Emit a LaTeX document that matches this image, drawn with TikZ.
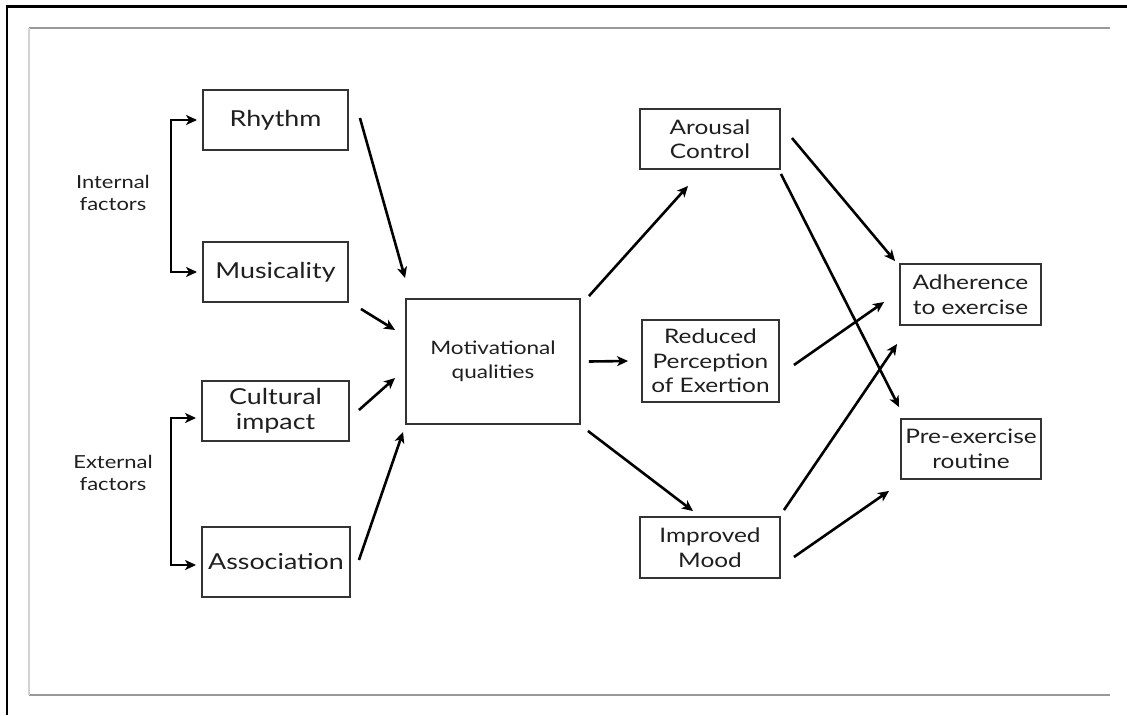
\documentclass[tikz,border=0pt]{standalone}
\usepackage{fontspec}
\setmainfont{Lato}[FakeStretch=1.22]
\usetikzlibrary{calc,arrows.meta}
\tikzset{
  box/.style={draw=black!80, line width=1.9pt, text=black!88, align=center, inner sep=0pt},
  bigtxt/.style={font=\fontsize{22}{25}\selectfont},
  midtxt/.style={font=\fontsize{18.5}{24.5}\selectfont},
  rtxt/.style={font=\fontsize{20}{24.5}\selectfont},
  lbl/.style={text=black!88, align=center, font=\fontsize{18}{21.5}\selectfont},
  arr/.style={-{Stealth[length=11pt,width=10pt,inset=3pt]}, line width=2.6pt, black},
  brk/.style={{Stealth[length=11pt,width=10pt,inset=3pt]}-{Stealth[length=11pt,width=10pt,inset=3pt]}, line width=2.6pt, black}
}
\begin{document}
\begin{tikzpicture}[x=1pt,y=-1pt]
\useasboundingbox (0,0) rectangle (1127,715);
% frame
\draw[line width=2.6pt, black] (7,715) -- (7,6.5) -- (1127,6.5);
\draw[line width=1.3pt, black!40] (29,28) -- (1110,28);
\draw[line width=1.3pt, black!40] (29,695) -- (1110,695);
\draw[line width=1.3pt, black!18] (29,28) -- (29,695);
% nodes
\node[box,bigtxt,minimum width=145pt,minimum height=60pt] (rhythm) at (275.5,120) {Rhythm};
\node[box,bigtxt,minimum width=145pt,minimum height=60pt] (music) at (275.5,272) {Musicality};
\node[box,bigtxt,minimum width=147pt,minimum height=60pt] (cult) at (275.5,411) {Cultural\\impact};
\node[box,bigtxt,minimum width=148pt,minimum height=70pt] (assoc) at (276,562) {Association};
\node[box,midtxt,minimum width=174pt,minimum height=125pt] (motiv) at (493,361.5) {Motivational\\qualities};
\node[box,rtxt,minimum width=140pt,minimum height=60pt] (arousal) at (710,139) {Arousal\\Control};
\node[box,rtxt,minimum width=137pt,minimum height=82pt] (reduced) at (710.5,361) {Reduced\\Perception\\of Exertion};
\node[box,rtxt,minimum width=140pt,minimum height=61pt] (mood) at (710,547.5) {Improved\\Mood};
\node[box,rtxt,minimum width=141pt,minimum height=61pt] (adher) at (970.5,294.5) {Adherence\\to exercise};
\node[box,rtxt,minimum width=140pt,minimum height=60pt] (pre) at (971,449) {Pre-exercise\\routine};
\node[lbl] (internal) at (113,193) {Internal\\factors};
\node[lbl] (external) at (113,473) {External\\factors};
% brackets
\draw[brk] ($(rhythm.west)+(-5,0)$) -- ++(-26,0) |- ($(music.west)+(-5,0)$);
\draw[brk] ($(cult.west)+(-5,7)$) -- ++(-25,0) |- ($(assoc.west)+(-5,3)$);
% arrows
\draw[arr] ($(rhythm.east)+(11,-2)$) -- ($(motiv.north west)+(0,-20)$);
\draw[arr] ($(music.south east)+(12,6)$) -- ($(motiv.west)+(-10,-31.5)$);
\draw[arr] ($(cult.east)+(9,-1)$) -- ($(motiv.west)+(-10,16.5)$);
\draw[arr] ($(assoc.east)+(8,-2)$) -- ($(motiv.south west)+(-2,7)$);
\draw[arr] ($(motiv.north east)+(8,-2)$) -- ($(arousal.south)+(-22,16)$);
\draw[arr] ($(motiv.east)+(8,0)$) -- ($(reduced.west)+(-13,0)$);
\draw[arr] ($(motiv.south east)+(7,6)$) -- ($(mood.north)+(-17,-5)$);
\draw[arr] ($(arousal.east)+(11,-1)$) -- ($(adher.north west)+(-4,-2)$);
\draw[arr] ($(arousal.south east)+(0,4)$) -- ($(pre.north west)+(-1,-11)$);
\draw[arr] ($(reduced.east)+(14,4)$) -- ($(adher.west)+(-15,7.5)$);
\draw[arr] ($(mood.north east)+(3,-6)$) -- ($(adher.south west)+(-2,18)$);
\draw[arr] ($(mood.east)+(13,9.5)$) -- ($(pre.south west)+(-11,11)$);
\end{tikzpicture}
\end{document}
